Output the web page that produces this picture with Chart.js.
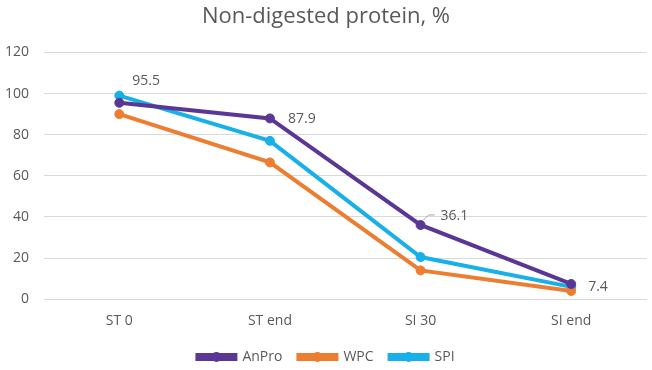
<!DOCTYPE html>
<html>
<head>
<meta charset="utf-8">
<script src="https://cdn.jsdelivr.net/npm/chart.js@4"></script>
<style>
  html, body { margin: 0; padding: 0; background: #fff; }
  #wrap { width: 652px; height: 370px; }
</style>
</head>
<body>
<div id="wrap"><canvas id="c"></canvas></div>
<script>
const categories = ['ST 0', 'ST end', 'SI 30', 'SI end'];
const anPro = [95.5, 87.9, 36.1, 7.4];
const wpc = [90, 66.5, 14, 4];
const spi = [99, 77, 20.5, 6];
const anProLabels = ['95.5', '87.9', '36.1', '7.4'];

const textColor = '#595959';
const fontFamily = "'Open Sans', 'Liberation Sans', sans-serif";

// labels next to the AnPro points
const valueLabels = {
    id: 'valueLabels',
    afterDatasetsDraw(chart) {
        const ctx = chart.ctx;
        const meta = chart.getDatasetMeta(0);
        ctx.save();
        ctx.font = '14px ' + fontFamily;
        ctx.fillStyle = textColor;
        ctx.textBaseline = 'middle';
        ctx.textAlign = 'left';
        meta.data.forEach((pt, i) => {
            let dx = 18, dy = 1;
            if (i === 0) { dx = 13; dy = -22; }
            if (i === 2) {
                dx = 20; dy = -9;
                ctx.strokeStyle = '#a6a6a6';
                ctx.lineWidth = 1;
                ctx.beginPath();
                ctx.moveTo(pt.x + 3, pt.y - 5);
                ctx.lineTo(pt.x + 8, pt.y - 10);
                ctx.lineTo(pt.x + 14, pt.y - 10);
                ctx.stroke();
            }
            if (i === 3) { dx = 17; dy = 3; }
            ctx.fillText(anProLabels[i], pt.x + dx, pt.y + dy);
        });
        ctx.restore();
    }
};

// put a marker dot on top of each legend line
const legendDots = {
    id: 'legendDots',
    afterDraw(chart) {
        const legend = chart.legend;
        if (!legend || !legend.legendHitBoxes) return;
        const ctx = chart.ctx;
        ctx.save();
        legend.legendHitBoxes.forEach((box, i) => {
            const ds = chart.data.datasets[i];
            const cx = box.left + 19;
            const cy = box.top + box.height / 2;
            ctx.fillStyle = ds.borderColor;
            ctx.beginPath();
            ctx.arc(cx, cy, 5, 0, Math.PI * 2);
            ctx.fill();
        });
        ctx.restore();
    }
};

const mkSet = (label, data, color) => ({
    label: label,
    data: data,
    borderColor: color,
    backgroundColor: color,
    pointBackgroundColor: color,
    pointBorderColor: color,
    borderWidth: 4,
    pointRadius: 4.5,
    pointBorderWidth: 1,
    pointHoverRadius: 4.5,
    tension: 0
});

new Chart(document.getElementById('c'), {
    type: 'line',
    data: {
        labels: categories,
        datasets: [
            mkSet('AnPro', anPro, '#5b3795'),
            mkSet('WPC', wpc, '#ed7d31'),
            mkSet('SPI', spi, '#18b0e8')
        ]
    },
    options: {
        responsive: true,
        maintainAspectRatio: false,
        animation: false,
        layout: { padding: { left: 4, right: 4, top: 0, bottom: -4 } },
        plugins: {
            title: {
                display: true,
                text: 'Non-digested protein, %',
                color: textColor,
                font: { family: fontFamily, size: 22, weight: 'normal', lineHeight: 1.2 },
                padding: { top: 4, bottom: 22 }
            },
            legend: {
                position: 'bottom',
                labels: {
                    color: textColor,
                    font: { family: fontFamily, size: 14 },
                    boxWidth: 38,
                    boxHeight: 4,
                    padding: 16
                }
            },
            tooltip: { enabled: false }
        },
        scales: {
            y: {
                min: 0,
                max: 120,
                afterFit: (scale) => { scale.width = 40; },
                ticks: {
                    stepSize: 20,
                    color: textColor,
                    font: { family: fontFamily, size: 14 },
                    padding: 15
                },
                grid: { color: '#d9d9d9', drawTicks: false },
                border: { display: false }
            },
            x: {
                offset: true,
                ticks: {
                    color: textColor,
                    font: { family: fontFamily, size: 14 },
                    padding: 5
                },
                grid: { display: false },
                border: { color: '#d9d9d9' }
            }
        }
    },
    plugins: [valueLabels, legendDots]
});
</script>
</body>
</html>
